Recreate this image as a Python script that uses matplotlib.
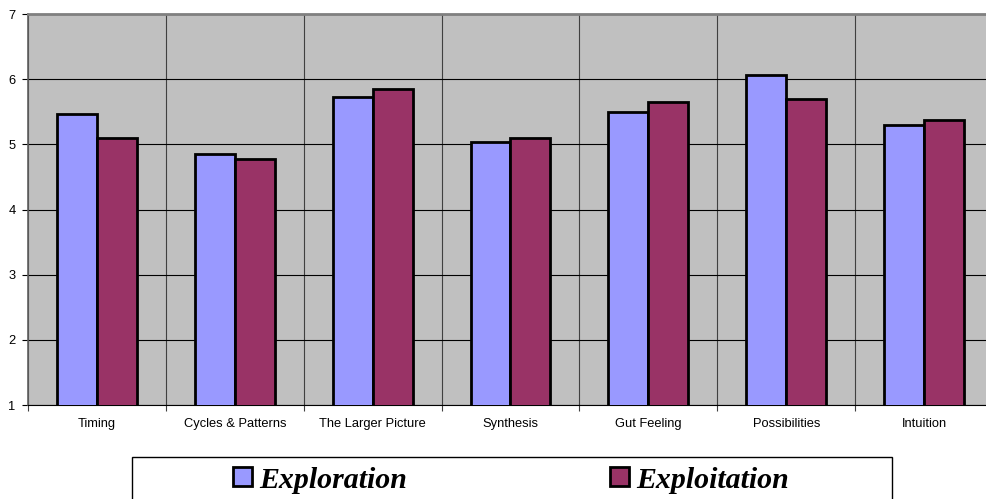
import numpy as np
import matplotlib
matplotlib.use("Agg")
import matplotlib.pyplot as plt
from matplotlib.patches import Rectangle

categories = ["Timing", "Cycles & Patterns", "The Larger Picture", "Synthesis",
              "Gut Feeling", "Possibilities", "Intuition"]
exploration = [5.47, 4.85, 5.72, 5.03, 5.49, 6.07, 5.29]
exploitation = [5.10, 4.78, 5.85, 5.10, 5.65, 5.70, 5.37]
series_names = ["Exploration", "Exploitation"]
yticks = [1, 2, 3, 4, 5, 6, 7]

plt.rcParams['font.family'] = ['Liberation Sans', 'DejaVu Sans']

W, H = 987, 499
fig = plt.figure(figsize=(W / 100, H / 100), dpi=100)
ax = fig.add_axes([28 / W, 1 - 405 / H, 965 / W, 391 / H])

x = np.arange(len(categories))
bw = 0.29
b1 = ax.bar(x - bw / 2, exploration, bw, color="#9999FF", edgecolor="black", linewidth=2, zorder=3)
b2 = ax.bar(x + bw / 2, exploitation, bw, color="#993366", edgecolor="black", linewidth=2, zorder=3)

ax.set_facecolor("#C0C0C0")
ax.set_xlim(-0.5, len(categories) - 0.5)
ax.set_ylim(1, 7)
ax.set_yticks(yticks)
ax.set_xticks(x)
ax.set_xticklabels(categories, fontsize=9.3)
ax.set_xticks(np.arange(len(categories) + 1) - 0.5, minor=True)
ax.tick_params(axis="x", which="major", length=0, pad=9.5)
ax.tick_params(axis="x", which="minor", length=4, width=0.8, color="#404040")
ax.tick_params(axis="y", length=4, width=0.8, labelsize=9.3, pad=5)
ax.grid(axis="y", color="black", linewidth=0.8, zorder=1)
ax.grid(axis="x", which="minor", color="#404040", linewidth=0.8, zorder=1)
ax.set_axisbelow(True)

ax.spines["top"].set_color("#808080")
ax.spines["top"].set_linewidth(2)
ax.spines["left"].set_color("#606060")
ax.spines["left"].set_linewidth(1.2)
ax.spines["bottom"].set_color("black")
ax.spines["right"].set_color("#808080")

# legend box
fig.patches.append(Rectangle((132 / W, -0.1), 760 / W, 0.1 + 1 - 457 / H, transform=fig.transFigure,
                             fill=False, edgecolor="black", linewidth=1))
fig.legend([b1, b2], series_names, ncol=2, loc="center", bbox_to_anchor=(511 / W, 1 - 480 / H),
           frameon=False, handlelength=0.64, handleheight=0.6, handletextpad=0.23, columnspacing=6.8,
           prop={"family": ["Liberation Serif", "DejaVu Serif"], "weight": "bold", "style": "italic", "size": 21.5})

fig.savefig("out.png", dpi=100)
